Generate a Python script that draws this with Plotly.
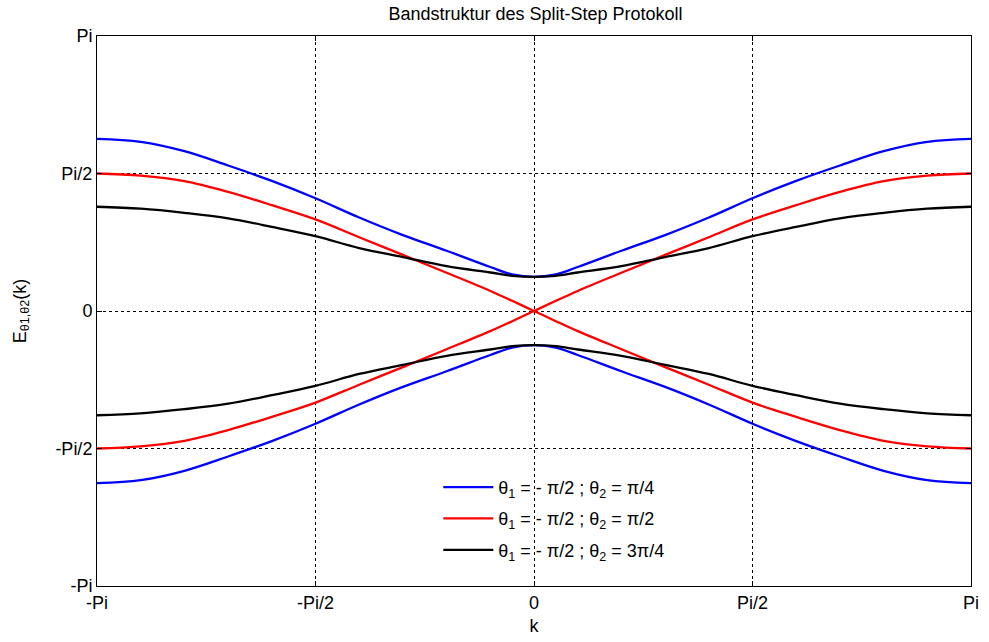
import math
import plotly.graph_objects as go

# k in units of pi
k_pi = [-1.0, -0.9, -0.8, -0.7, -0.6, -0.5, -0.4, -0.3, -0.2, -0.1, -0.05, 0.0,
        0.05, 0.1, 0.2, 0.3, 0.4, 0.5, 0.6, 0.7, 0.8, 0.9, 1.0]

# energies in units of pi
blue_up = [0.626, 0.615, 0.581, 0.529, 0.473, 0.410, 0.340, 0.276, 0.219, 0.160, 0.133, 0.124,
           0.133, 0.160, 0.219, 0.276, 0.340, 0.410, 0.473, 0.529, 0.581, 0.615, 0.626]
blue_dn = [-0.626, -0.615, -0.581, -0.529, -0.473, -0.410, -0.340, -0.276, -0.219, -0.160, -0.133, -0.124,
           -0.133, -0.160, -0.219, -0.276, -0.340, -0.410, -0.473, -0.529, -0.581, -0.615, -0.626]
red_up = [0.500, 0.492, 0.472, 0.433, 0.385, 0.333, 0.268, 0.204, 0.139, 0.073, 0.037, 0.0,
          -0.037, -0.073, -0.139, -0.204, -0.268, -0.333, -0.385, -0.433, -0.472, -0.492, -0.500]
red_dn = [-0.500, -0.492, -0.472, -0.433, -0.385, -0.333, -0.268, -0.204, -0.139, -0.073, -0.037, 0.0,
          0.037, 0.073, 0.139, 0.204, 0.268, 0.333, 0.385, 0.433, 0.472, 0.492, 0.500]
black_up = [0.379, 0.372, 0.357, 0.337, 0.306, 0.272, 0.229, 0.196, 0.163, 0.140, 0.128, 0.124,
            0.128, 0.140, 0.163, 0.196, 0.229, 0.272, 0.306, 0.337, 0.357, 0.372, 0.379]
black_dn = [-0.379, -0.372, -0.357, -0.337, -0.306, -0.272, -0.229, -0.196, -0.163, -0.140, -0.128, -0.124,
            -0.128, -0.140, -0.163, -0.196, -0.229, -0.272, -0.306, -0.337, -0.357, -0.372, -0.379]

tick_vals_pi = [-1.0, -0.5, 0.0, 0.5, 1.0]
tick_text = ["-Pi", "-Pi/2", "0", "Pi/2", "Pi"]

legend_names = ["θ<sub>1</sub> = - π/2 ; θ<sub>2</sub> = π/4",
                "θ<sub>1</sub> = - π/2 ; θ<sub>2</sub> = π/2",
                "θ<sub>1</sub> = - π/2 ; θ<sub>2</sub> = 3π/4"]

PI = math.pi
kx = [v * PI for v in k_pi]
FONT = "Liberation Sans, Arial"


def sc(a):
    return [v * PI for v in a]


fig = go.Figure()
series = [
    (blue_up, blue_dn, "#0000FF", legend_names[0]),
    (red_up, red_dn, "#FF0000", legend_names[1]),
    (black_up, black_dn, "#000000", legend_names[2]),
]
for i, (up, dn, col, name) in enumerate(series):
    fig.add_trace(go.Scatter(x=kx, y=sc(up), mode="lines", name=name,
                             line=dict(color=col, width=2.3, shape="spline", smoothing=1.0),
                             legendgroup=f"g{i}", showlegend=True))
    fig.add_trace(go.Scatter(x=kx, y=sc(dn), mode="lines", name=name,
                             line=dict(color=col, width=2.3, shape="spline", smoothing=1.0),
                             legendgroup=f"g{i}", showlegend=False))

axis_common = dict(
    range=[-PI, PI],
    tickvals=[v * PI for v in tick_vals_pi],
    ticktext=tick_text,
    showgrid=True,
    gridcolor="#000000",
    gridwidth=1,
    griddash="3px,3px",
    zeroline=False,
    showline=True,
    linecolor="#000000",
    linewidth=1,
    mirror="ticks",
    ticks="inside",
    ticklen=5,
    tickcolor="#000000",
    tickfont=dict(family=FONT, size=18, color="#000000"),
)

fig.update_layout(
    width=989, height=642,
    margin=dict(l=97, r=10, t=36, b=50),
    paper_bgcolor="white",
    plot_bgcolor="white",
    title=dict(text="Bandstruktur des Split-Step Protokoll", x=0.5415, xanchor="center",
               y=0.978, yanchor="middle",
               font=dict(family=FONT, size=18, color="#000000")),
    xaxis=dict(**axis_common,
               title=dict(text="k", standoff=7,
                          font=dict(family=FONT, size=18, color="#000000"))),
    yaxis=dict(**axis_common,
               title=dict(text="E<sub>θ1,θ2</sub>(k)", standoff=24,
                          font=dict(family=FONT, size=18, color="#000000"))),
    legend=dict(x=0.3905, y=0.213, xanchor="left", yanchor="top",
                bgcolor="rgba(255,255,255,0)", borderwidth=0,
                itemwidth=50,
                tracegroupgap=5,
                font=dict(family=FONT, size=18, color="#000000")),
    showlegend=True,
)

fig.write_html("out.html")
